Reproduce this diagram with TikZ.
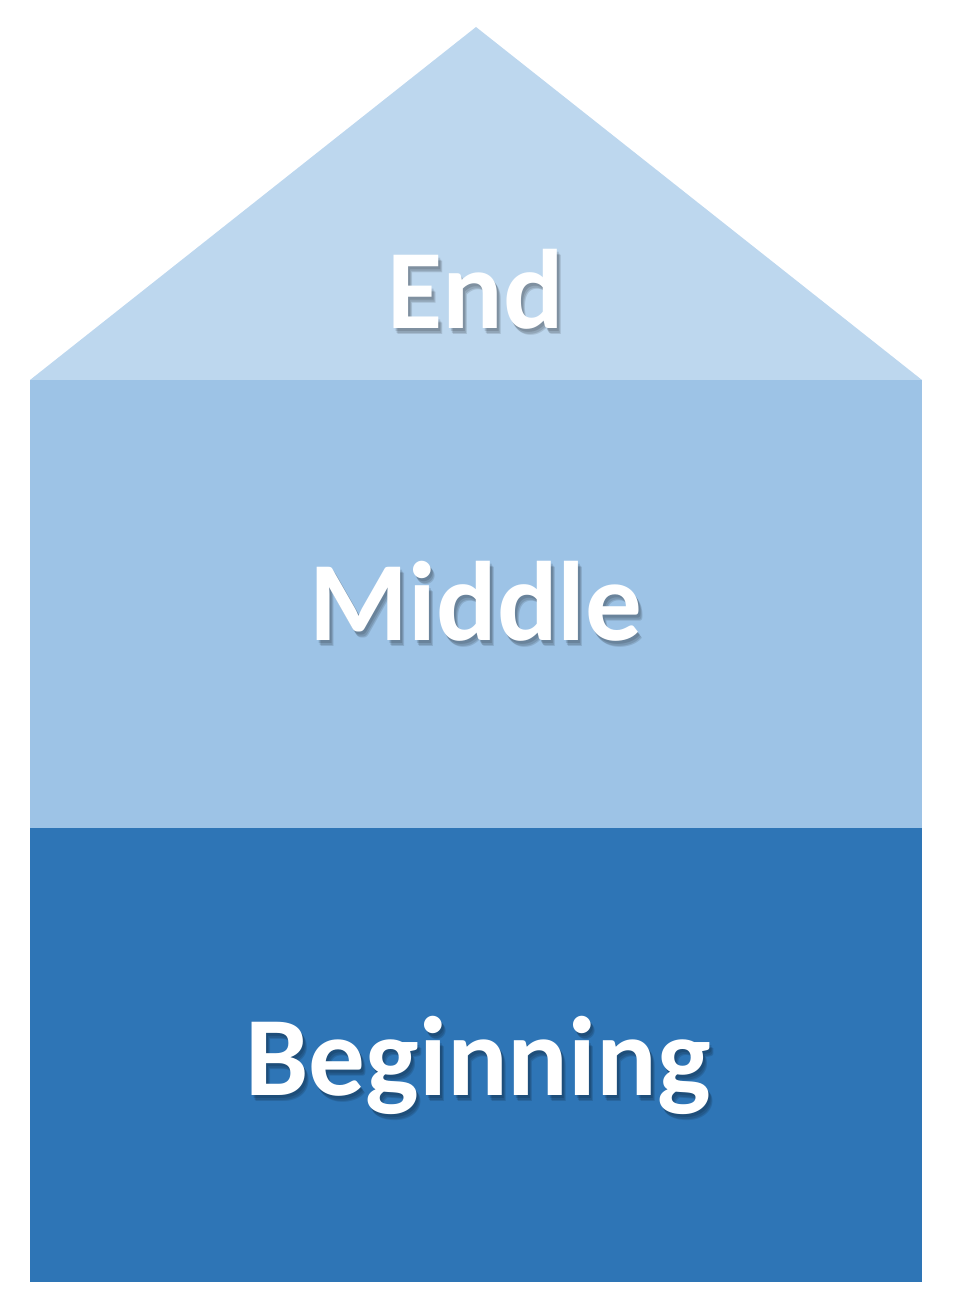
\documentclass[tikz,border=0pt]{standalone}
\usepackage{fontspec}
\setmainfont{Carlito}
\definecolor{roofblue}{HTML}{BDD7EE}
\definecolor{midblue}{HTML}{9DC3E6}
\definecolor{baseblue}{HTML}{2E75B6}
\begin{document}
\begin{tikzpicture}[x=1pt, y=-1pt,
    housetext/.style = {anchor=base, inner sep=0pt, text=white, font=\bfseries\fontsize{113}{120}\selectfont},
    houseshadow/.style = {housetext, text=black, text opacity=0.12}]
            \useasboundingbox (0,0) rectangle (960,1297);
            % house parts
            \fill[roofblue] (30,380) -- (476,27) -- (922,380) -- cycle;
            \fill[midblue] (30,380) rectangle (922,828);
            \fill[baseblue] (30,828) rectangle (922,1282);

            % soft shadows behind the words
            \foreach \dx/\dy in {2/3, 3/5, 4/6} {
                \node[houseshadow] (endshadow) at (476+\dx,328+\dy) {End};
                \node[houseshadow] (middleshadow) at (476+\dx,640+\dy) {Middle};
                \node[houseshadow] (beginshadow) at (478+\dx,1095+\dy) {Beginning};
            }

            % words
            \node[housetext] (end) at (476,328) {End};
            \node[housetext] (middle) at (476,640) {Middle};
            \node[housetext] (begin) at (478,1095) {Beginning};
\end{tikzpicture}
\end{document}
